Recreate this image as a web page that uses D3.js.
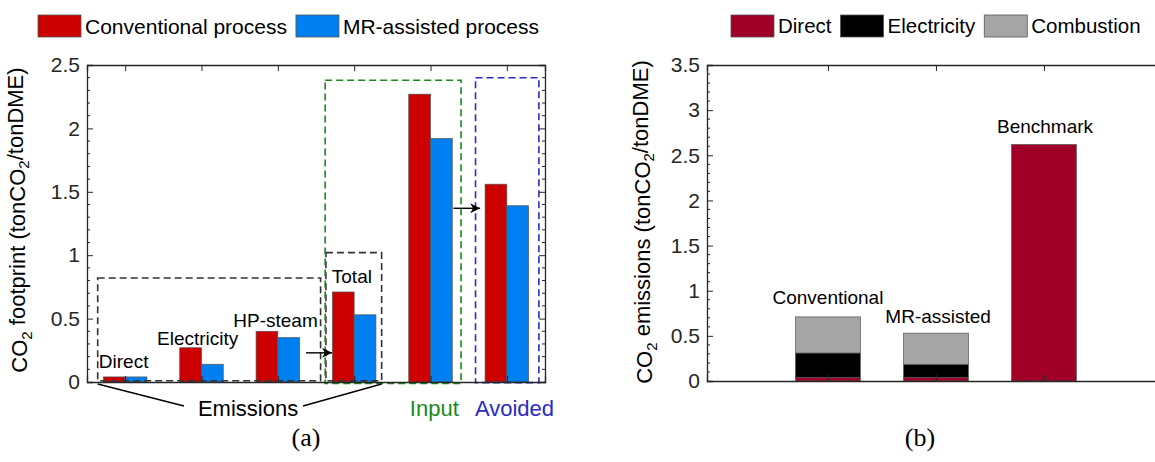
<!DOCTYPE html>
<html>
<head>
<meta charset="utf-8">
<script src="https://cdn.jsdelivr.net/npm/d3@7"></script>
<style>
  body { margin: 0; background: #fff; }
  svg { display: block; font-family: "Liberation Sans", Arial, sans-serif; }
  .tick text { font-size: 21px; fill: #262626; }
  .tick line { stroke: #262626; }
</style>
</head>
<body>
<div id="chart"></div>
<script>
// ---- data, panel (a)
const categoriesA = ['Direct', 'Electricity', 'HP-steam', 'Total', 'Input', 'Avoided'];
const conventional = [0.04, 0.27, 0.40, 0.71, 2.27, 1.56];
const mrAssisted = [0.04, 0.14, 0.35, 0.53, 1.92, 1.39];
const seriesA = ['Conventional process', 'MR-assisted process'];
const yTicksA = [0, 0.5, 1, 1.5, 2, 2.5];

// ---- data, panel (b)
const categoriesB = ['Conventional', 'MR-assisted', 'Benchmark'];
const direct = [0.04, 0.04, 2.62];
const electricity = [0.27, 0.145, 0];
const combustion = [0.40, 0.345, 0];
const seriesB = ['Direct', 'Electricity', 'Combustion'];
const yTicksB = [0, 0.5, 1, 1.5, 2, 2.5, 3, 3.5];

const W = 1155, H = 462;
const axisColor = '#262626';
const colorsA = ['#cc0000', '#0080f0'];
const colorsB = ['#a00028', '#000000', '#a5a5a5'];

const svg = d3.select('#chart').append('svg')
    .attr('width', W).attr('height', H);

// draw a legend row, boxes then labels, laid out from the measured text width
function legend(x0, names, colors, fs) {
    let x = x0;
    names.forEach((n, i) => {
        svg.append('rect')
            .attr('x', x).attr('y', 15).attr('width', 43).attr('height', 22)
            .attr('fill', colors[i]).attr('stroke', '#555').attr('stroke-width', 0.8);
        const t = svg.append('text')
            .attr('x', x + 47).attr('y', 26).attr('dy', '0.36em')
            .style('font-size', fs + 'px').attr('fill', '#000')
            .text(n);
        x += 47 + t.node().getComputedTextLength() + 9;
    });
}

// y label with CO2 subscripts, rotated
function yLabel(cx, cy, word) {
    const t = svg.append('text')
        .attr('transform', `translate(${cx},${cy}) rotate(-90)`)
        .attr('text-anchor', 'middle')
        .style('font-size', '22px').attr('fill', '#000');
    t.append('tspan').text('CO');
    t.append('tspan').attr('dy', '0.3em').style('font-size', '15px').text('2');
    t.append('tspan').attr('dy', '-0.3em').text(` ${word} (tonCO`);
    t.append('tspan').attr('dy', '0.3em').style('font-size', '15px').text('2');
    t.append('tspan').attr('dy', '-0.3em').text('/tonDME)');
}

// box-style axes with inward ticks and minor ticks
function frame(x, y, cats, yTicks, minorStep, rightAxis) {
    const [x0, x1] = x.range();
    const [y0, y1] = y.range();
    const g = svg.append('g');
    // minor ticks
    const minor = d3.range(0, y.domain()[1] + 1e-9, minorStep)
        .filter(v => !yTicks.some(t => Math.abs(t - v) < 1e-6));
    g.selectAll('.minorL').data(minor).join('line')
        .attr('x1', x0).attr('x2', x0 + 3)
        .attr('y1', d => y(d)).attr('y2', d => y(d))
        .attr('stroke', axisColor).attr('stroke-width', 1);
    if (rightAxis) {
        g.selectAll('.minorR').data(minor).join('line')
            .attr('x1', x1).attr('x2', x1 - 3)
            .attr('y1', d => y(d)).attr('y2', d => y(d))
            .attr('stroke', axisColor).attr('stroke-width', 1);
    }
    g.append('g').attr('transform', `translate(${x0},0)`)
        .call(d3.axisLeft(y).tickValues(yTicks).tickSize(-6).tickPadding(7).tickFormat(d3.format('~g')))
        .call(a => a.select('.domain').attr('stroke', axisColor).attr('stroke-width', 1.3));
    if (rightAxis) {
        g.append('g').attr('transform', `translate(${x1},0)`)
            .call(d3.axisRight(y).tickValues(yTicks).tickSize(-6).tickFormat(''))
            .call(a => a.select('.domain').attr('stroke', axisColor).attr('stroke-width', 1.3));
    }
    const idx = cats.map((c, i) => i + 1);
    g.append('g').attr('transform', `translate(0,${y1})`)
        .call(d3.axisTop(x).tickValues(idx).tickSize(-6).tickFormat(''))
        .call(a => a.select('.domain').attr('stroke', axisColor).attr('stroke-width', 1.3));
    g.append('g').attr('transform', `translate(0,${y0})`)
        .call(d3.axisBottom(x).tickValues(idx).tickSize(-6).tickFormat(''))
        .call(a => a.select('.domain').attr('stroke', axisColor).attr('stroke-width', 1.3));
    g.selectAll('.tick line').attr('stroke', axisColor).attr('stroke-width', 1);
    return g;
}

// ================= panel (a) =================
const xA = d3.scaleLinear().domain([0.5, 6.5]).range([87, 545]);
const yA = d3.scaleLinear().domain([0, 2.5]).range([382, 65]);
const barW = 0.285;

legend(38, seriesA, colorsA, 21);
yLabel(27, 220, 'footprint');

const gA = svg.append('g');
[conventional, mrAssisted].forEach((vals, s) => {
    gA.selectAll(`.barA${s}`).data(vals).join('rect')
        .attr('x', (d, i) => xA(i + 1 + (s - 1) * barW))
        .attr('width', xA(barW) - xA(0))
        .attr('y', d => yA(d))
        .attr('height', d => yA(0) - yA(d))
        .attr('fill', colorsA[s])
        .attr('stroke', '#555').attr('stroke-width', 0.7);
});

// dashed boxes [x0, x1, y0, y1] in data units
const boxesA = [
    { r: [0.64, 3.56, 0.01, 0.82], c: '#333333' },
    { r: [3.63, 4.36, 0.01, 1.02], c: '#333333' },
    { r: [3.62, 5.40, -0.012, 2.38], c: '#1a8a1a' },
    { r: [5.59, 6.42, -0.005, 2.40], c: '#2a2ac4' }
];
gA.selectAll('.dbox').data(boxesA).join('rect')
    .attr('x', d => xA(d.r[0])).attr('y', d => yA(d.r[3]))
    .attr('width', d => xA(d.r[1]) - xA(d.r[0]))
    .attr('height', d => yA(d.r[2]) - yA(d.r[3]))
    .attr('fill', 'none').attr('stroke', d => d.c)
    .attr('stroke-width', 1.6).attr('stroke-dasharray', '7,4');

// group labels above bars: [category index, y anchor in data units]
const labelPosA = [[0.98, 0.11], [1.95, 0.29], [2.97, 0.43], [3.97, 0.78]];
gA.selectAll('.glab').data(labelPosA).join('text')
    .attr('x', d => xA(d[0])).attr('y', d => yA(d[1]))
    .attr('text-anchor', 'middle').style('font-size', '19px')
    .text((d, i) => categoriesA[i]);

// arrows
svg.append('defs').append('marker')
    .attr('id', 'arr').attr('viewBox', '0 0 10 10').attr('refX', 10).attr('refY', 5)
    .attr('markerWidth', 10).attr('markerHeight', 10).attr('markerUnits', 'userSpaceOnUse')
    .attr('orient', 'auto')
    .append('path').attr('d', 'M0,0 L10,5 L0,10 L3,5 Z').attr('fill', '#000');
const arrowsA = [[3.37, 3.71, 0.23], [5.30, 5.65, 1.37]];
gA.selectAll('.arrow').data(arrowsA).join('line')
    .attr('x1', d => xA(d[0])).attr('x2', d => xA(d[1]))
    .attr('y1', d => yA(d[2])).attr('y2', d => yA(d[2]))
    .attr('stroke', '#000').attr('stroke-width', 1.4).attr('marker-end', 'url(#arr)');

frame(xA, yA, categoriesA, yTicksA, 0.1, true);

// bottom annotations
svg.append('text').attr('x', xA(2.61)).attr('y', 416).attr('text-anchor', 'middle')
    .style('font-size', '22px').text('Emissions');
svg.append('line').attr('x1', xA(0.64)).attr('y1', 384).attr('x2', 184).attr('y2', 406)
    .attr('stroke', '#000').attr('stroke-width', 1.3);
svg.append('line').attr('x1', 303).attr('y1', 406).attr('x2', xA(4.36)).attr('y2', 384)
    .attr('stroke', '#000').attr('stroke-width', 1.3);
svg.append('text').attr('x', xA(5.05)).attr('y', 416).attr('text-anchor', 'middle')
    .style('font-size', '22px').attr('fill', '#1a8a1a').text('Input');
svg.append('text').attr('x', xA(6.1)).attr('y', 416).attr('text-anchor', 'middle')
    .style('font-size', '22px').attr('fill', '#2a2ac4').text('Avoided');
svg.append('text').attr('x', 306).attr('y', 446).attr('text-anchor', 'middle')
    .style('font-family', '"Liberation Serif", "DejaVu Serif", serif')
    .style('font-size', '26px').text('(a)');

// ================= panel (b) =================
const xB = d3.scaleLinear().domain([-0.12, 4.2]).range([707, 707 + 4.32 * 108]);
const yB = d3.scaleLinear().domain([0, 3.5]).range([381, 65]);
const barWB = 0.6;

legend(731, seriesB, colorsB, 20.5);
yLabel(652, 222, 'emissions');

const tableB = categoriesB.map((c, i) => ({
    cat: c, i: i + 1, Direct: direct[i], Electricity: electricity[i], Combustion: combustion[i]
}));
const stacked = d3.stack().keys(seriesB)(tableB);

const gB = svg.append('g');
gB.selectAll('.layer').data(stacked).join('g')
    .attr('fill', (d, k) => colorsB[k])
    .selectAll('rect').data(d => d.filter(p => p[1] - p[0] > 0)).join('rect')
    .attr('x', d => xB(d.data.i - barWB / 2))
    .attr('width', xB(barWB) - xB(0))
    .attr('y', d => yB(d[1]))
    .attr('height', d => yB(d[0]) - yB(d[1]))
    .attr('stroke', '#555').attr('stroke-width', 0.7);

// labels above stacks: [category index, y anchor in data units]
const labelPosB = [[1.0, 0.85], [2.02, 0.64], [3.01, 2.75]];
gB.selectAll('.slab').data(labelPosB).join('text')
    .attr('x', d => xB(d[0])).attr('y', d => yB(d[1]))
    .attr('text-anchor', 'middle').style('font-size', '19px')
    .text((d, i) => categoriesB[i]);

frame(xB, yB, categoriesB, yTicksB, 0.1, false);

svg.append('text').attr('x', 920).attr('y', 446).attr('text-anchor', 'middle')
    .style('font-family', '"Liberation Serif", "DejaVu Serif", serif')
    .style('font-size', '26px').text('(b)');
</script>
</body>
</html>
